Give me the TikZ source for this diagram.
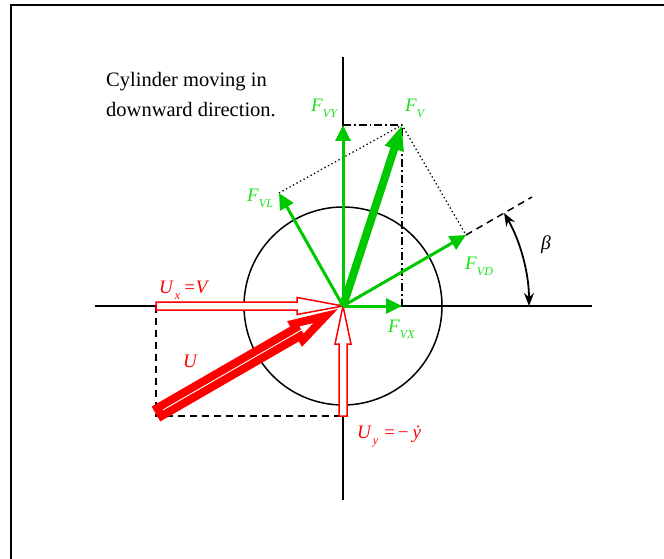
\documentclass[tikz,border=0pt]{standalone}
\usepackage{fontspec}
\setmainfont{Liberation Serif}
\usepackage{tikz}
\usetikzlibrary{arrows.meta}
\definecolor{vgreen}{RGB}{0,200,0}
\definecolor{lgreen}{RGB}{25,225,25}
\newcommand{\lsub}[1]{\raisebox{-6pt}{\fontsize{12}{12}\selectfont\itshape #1}}
\tikzset{
  axisline/.style={line width=1.8pt},
  force/.style={vgreen, line width=3pt, -{Triangle[length=16pt,width=15pt]}},
  bigforce/.style={vgreen, line width=8pt, -{Triangle[length=25pt,width=18pt]}},
  hollow/.style={red, line width=1.5pt, fill=white, line join=miter},
  glabel/.style={lgreen, font=\fontsize{19}{22}\selectfont, anchor=base west, inner sep=0pt},
  rlabel/.style={red, font=\fontsize{19}{22}\selectfont, anchor=base west, inner sep=0pt},
  dashdot/.style={line width=1.5pt, dash pattern=on 8pt off 3pt on 1.5pt off 3pt},
  dotline/.style={line width=1.3pt, dash pattern=on 1.3pt off 2.7pt},
  dashline/.style={line width=1.5pt, dash pattern=on 7pt off 5pt}
}
\begin{document}
\begin{tikzpicture}[x=1pt, y=-1pt]
  % pixel coordinates, y pointing down
  \useasboundingbox (0,0) rectangle (664,559);
  \clip (0,0) rectangle (664,559);
  \draw[line width=2pt] (11,5.5) rectangle (680,580);

  \coordinate (O) at (343,306);
  \coordinate (xl) at (95,306);
  \coordinate (xr) at (592,306);
  \coordinate (yt) at (343,57);
  \coordinate (yb) at (343,500);
  \coordinate (FVY) at (343,125);
  \coordinate (FV) at (402,125);
  \coordinate (FVX) at (402,306);
  \coordinate (FVL) at (279,193);
  \coordinate (FVD) at (466,235);
  \coordinate (Dend) at (532,197);
  \coordinate (Ux0) at (156,306);
  \coordinate (C) at (156,416);
  \coordinate (Uy0) at (343,416);

  % axes and cylinder
  \draw[axisline] (xl) -- (xr);
  \draw[axisline] (yt) -- (yb);
  \draw[line width=1.5pt] (O) circle (99);

  % construction lines
  \draw[dashdot] (FVY) -- (FV) -- (FVX);
  \draw[dotline] (FVL) -- (FV) -- (FVD);
  \draw[dashline] (FVD) -- (Dend);
  \draw[dashline] (Ux0) -- (C) -- (Uy0);

  % angle beta
  \draw[line width=1.8pt, {Stealth[length=13pt,width=10pt]}-{Stealth[length=13pt,width=10pt]}]
    ([shift={(0:186)}]O) arc (0:-30:186);

  % red velocity arrows
  \draw[hollow] (156,302) -- (297,302) -- (297,297.5) -- (O) -- (297,314.5) -- (297,310) -- (156,310) -- cycle;
  \draw[hollow] (339,416) -- (339,344) -- (335,344) -- (O) -- (351,344) -- (347,344) -- (347,416) -- cycle;
  \begin{scope}[shift={(O)}, rotate=210]
    \draw[red, line width=8pt, fill=white, line join=miter]
      (20,0) -- (52,9.5) -- (52,4.6) -- (212,4.6) -- (212,-4.6) -- (52,-4.6) -- (52,-9.5) -- cycle;
  \end{scope}

  % green force arrows
  \draw[force] (O) -- (FVY);
  \draw[force] (O) -- (FVX);
  \draw[force] (O) -- (FVL);
  \draw[force] (O) -- (FVD);
  \draw[bigforce] (O) -- (FV);

  % labels
  \node[anchor=base west, inner sep=0pt, font=\fontsize{20.5}{24}\selectfont] (cap1) at (106,87) {Cylinder moving in};
  \node[anchor=base west, inner sep=0pt, font=\fontsize{20.5}{24}\selectfont] (cap2) at (106,117) {downward direction.};
  \node[glabel] (lFVY) at (311,112) {\textit{F}\lsub{VY}};
  \node[glabel] (lFV) at (405,112) {\textit{F}\lsub{V}};
  \node[glabel] (lFVL) at (247,201) {\textit{F}\lsub{VL}};
  \node[glabel] (lFVD) at (465,269) {\textit{F}\lsub{VD}};
  \node[glabel] (lFVX) at (388,332) {\textit{F}\lsub{VX}};
  \node[font=\fontsize{19.5}{22}\selectfont, inner sep=0pt] (lbeta) at (546,245) {\textit{β}};
  \node[rlabel] (lUx) at (159,293) {\textit{U}\hspace{1pt}\lsub{x}\hspace{4pt}=\hspace{1pt}\textit{V}};
  \node[rlabel] (lU) at (183,367) {\textit{U}};
  \node[rlabel] (lUy) at (357,438) {\textit{U}\hspace{1pt}\lsub{y}\hspace{6pt}=\hspace{3pt}−\hspace{4pt}\textit{\.{y}}};
\end{tikzpicture}
\end{document}
